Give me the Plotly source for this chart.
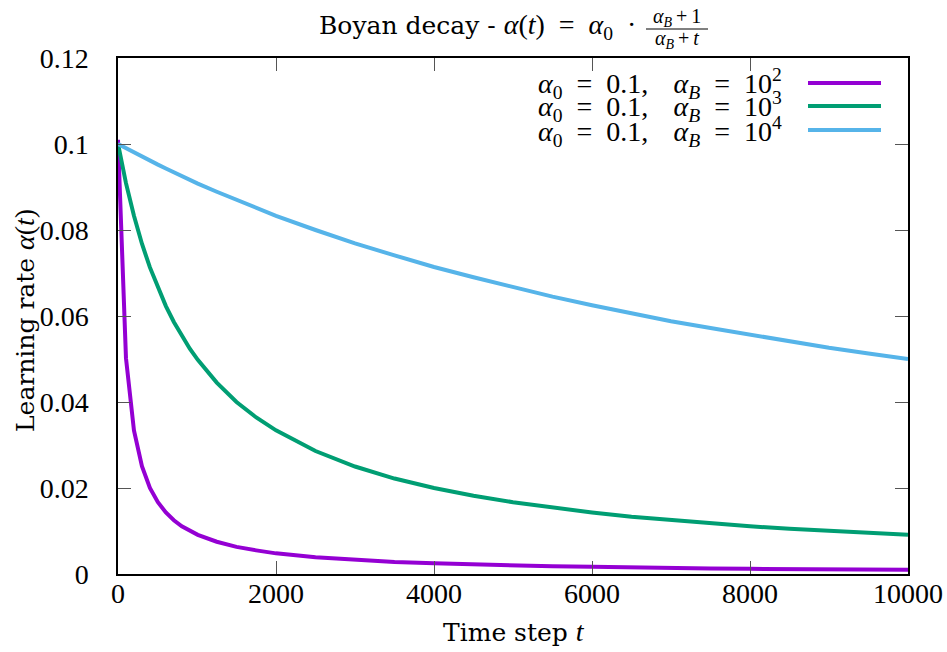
import plotly.graph_objects as go

# Time steps (x) and learning-rate values
t_steps = [0, 101, 202, 303, 404, 505, 606, 707, 808, 909, 1010, 1250, 1500, 1750,
           2000, 2500, 3000, 3500, 4000, 4500, 5000, 5500, 6000, 6500, 7000, 7500,
           8000, 8500, 9000, 9500, 10000]

rate_b100 = [0.101, 0.0502, 0.0334, 0.0251, 0.0200, 0.0167, 0.0143, 0.0125, 0.0111,
             0.0100, 0.0091, 0.0075, 0.0063, 0.0055, 0.0048, 0.0039, 0.0033, 0.0028,
             0.0025, 0.0022, 0.0020, 0.0018, 0.0017, 0.0015, 0.0014, 0.0013, 0.0012,
             0.0012, 0.0011, 0.0011, 0.0010]

rate_b1000 = [0.1001, 0.0909, 0.0833, 0.0768, 0.0713, 0.0665, 0.0623, 0.0586, 0.0554,
              0.0524, 0.0498, 0.0445, 0.0400, 0.0364, 0.0334, 0.0286, 0.0250, 0.0222,
              0.0200, 0.0182, 0.0167, 0.0154, 0.0143, 0.0133, 0.0125, 0.0118, 0.0111,
              0.0105, 0.0100, 0.0095, 0.0091]

rate_b10000 = [0.1000, 0.0990, 0.0980, 0.0971, 0.0961, 0.0952, 0.0943, 0.0934, 0.0925,
               0.0917, 0.0908, 0.0889, 0.0870, 0.0851, 0.0833, 0.0800, 0.0769, 0.0741,
               0.0714, 0.0690, 0.0667, 0.0645, 0.0625, 0.0606, 0.0588, 0.0572, 0.0556,
               0.0541, 0.0526, 0.0513, 0.0500]

SP = "\u2002"  # en space, mimics TeX math spacing
TH = "\u2009"  # thin space
series_labels = [
    f"<i>α</i><sub>0</sub>{SP}={SP}0.1,{SP}{TH}{TH}<i>α</i><sub><i>B</i></sub>{SP}={SP}10<sup>2</sup>",
    f"<i>α</i><sub>0</sub>{SP}={SP}0.1,{SP}{TH}{TH}<i>α</i><sub><i>B</i></sub>{SP}={SP}10<sup>3</sup>",
    f"<i>α</i><sub>0</sub>{SP}={SP}0.1,{SP}{TH}{TH}<i>α</i><sub><i>B</i></sub>{SP}={SP}10<sup>4</sup>",
]
series_colors = ["#9400d3", "#009e73", "#56b4e9"]

x_tick_vals = [0, 2000, 4000, 6000, 8000, 10000]
x_tick_text = ["0", "2000", "4000", "6000", "8000", "10000"]
y_tick_vals = [0, 0.02, 0.04, 0.06, 0.08, 0.1, 0.12]
y_tick_text = ["0", "0.02", "0.04", "0.06", "0.08", "0.1", "0.12"]

MATH = "Liberation Serif"
TEXT = "DejaVu Serif"
W, H = 947, 652
L, T = 118, 58
PW, PH = 790, 516
R, B = W - L - PW, H - T - PH


def px(x):  # screen pixel -> paper x
    return (x - L) / PW


def py(y):  # screen pixel -> paper y
    return (T + PH - y) / PH


fig = go.Figure()
for ys, name, col in zip([rate_b100, rate_b1000, rate_b10000], series_labels, series_colors):
    fig.add_trace(go.Scatter(x=t_steps, y=ys, mode="lines", name=name,
                             line=dict(color=col, width=4), showlegend=False))

annotations = []
shapes = []
# custom legend (text right-aligned, sample line to the right)
for i, (name, col) in enumerate(zip(series_labels, series_colors)):
    yy = [83, 106, 130][i]
    annotations.append(dict(x=px(784), y=py(yy + 1), xref="paper", yref="paper",
                            text=name, showarrow=False, xanchor="right", yanchor="middle",
                            font=dict(family=MATH, size=28, color="black")))
    shapes.append(dict(type="line", xref="paper", yref="paper",
                       x0=px(808), x1=px(881), y0=py(yy), y1=py(yy),
                       line=dict(color=col, width=4)))

# title with stacked fraction
annotations.append(dict(x=px(638), y=py(27), xref="paper", yref="paper",
                        text=("<span style='font-family:DejaVu Serif;font-size:25px'>Boyan decay - </span>"
                              f"<i>α</i>(<i>t</i>){SP}={SP}<i>α</i><sub>0</sub>{SP}·"),
                        showarrow=False, xanchor="right", yanchor="middle",
                        font=dict(family=MATH, size=28, color="black")))
annotations.append(dict(x=px(677), y=py(17), xref="paper", yref="paper",
                        text="<i>α</i><sub><i>B</i></sub>\u2009+\u20091", showarrow=False,
                        xanchor="center", yanchor="middle",
                        font=dict(family=MATH, size=20, color="black")))
annotations.append(dict(x=px(677), y=py(40), xref="paper", yref="paper",
                        text="<i>α</i><sub><i>B</i></sub>\u2009+\u2009<i>t</i>", showarrow=False,
                        xanchor="center", yanchor="middle",
                        font=dict(family=MATH, size=20, color="black")))
shapes.append(dict(type="line", xref="paper", yref="paper",
                   x0=px(646), x1=px(708), y0=py(29), y1=py(29),
                   line=dict(color="black", width=1)))

# axis titles
annotations.append(dict(x=px(514), y=py(631), xref="paper", yref="paper",
                        text="Time step <i><span style='font-family:Liberation Serif;font-size:28px'>t</span></i>",
                        showarrow=False, xanchor="center", yanchor="middle",
                        font=dict(family=TEXT, size=25, color="black")))
annotations.append(dict(x=px(24), y=py(321), xref="paper", yref="paper",
                        text=("Learning rate <span style='font-family:Liberation Serif;font-size:28px'>"
                              "<i>α</i>(<i>t</i>)</span>"),
                        showarrow=False, xanchor="center", yanchor="middle", textangle=-90,
                        font=dict(family=TEXT, size=25, color="black")))

axis_common = dict(showline=True, linecolor="black", linewidth=1.5, mirror="ticks",
                   ticks="inside", ticklen=13, tickcolor="#555", tickwidth=1,
                   showgrid=False, zeroline=False,
                   tickfont=dict(family=MATH, size=28, color="black"))

fig.update_layout(
    width=W, height=H,
    margin=dict(l=L, r=R, t=T, b=B, autoexpand=False),
    paper_bgcolor="white", plot_bgcolor="white",
    xaxis=dict(range=[0, 10000], tickvals=x_tick_vals, ticktext=x_tick_text,
               ticklabelstandoff=-6, **axis_common),
    yaxis=dict(range=[0, 0.12], tickvals=y_tick_vals, ticktext=y_tick_text,
               ticklabelstandoff=22, **axis_common),
    annotations=annotations,
    shapes=shapes,
)

fig.write_html("out.html", config={"displayModeBar": False},
               post_script="document.body.style.margin='0';document.body.style.overflow='hidden';")
